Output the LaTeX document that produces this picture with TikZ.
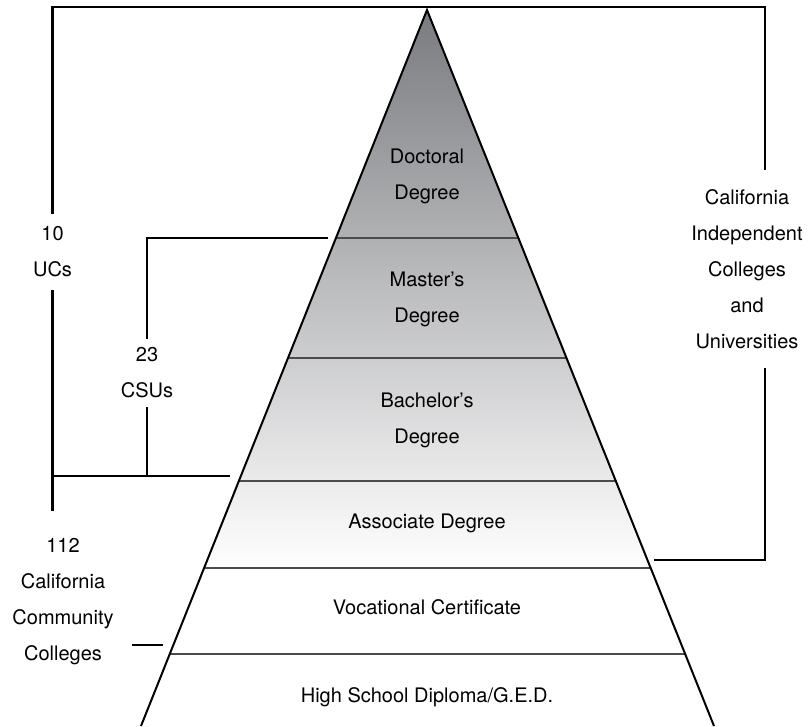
\documentclass[tikz,border=0pt]{standalone}
\usepackage{fontspec}
\setmainfont{TeX Gyre Heros}
\usetikzlibrary{positioning, calc}

\definecolor{topgray}{RGB}{122,123,127}
\definecolor{bandgray}{RGB}{75,75,77}

\tikzset{
	lbl/.style={align=center, inner xsep=0pt, inner ysep=0pt, font=\fontsize{20}{36}\selectfont},
	bracket/.style={line width=2.2pt},
	bandline/.style={line width=2pt, draw=bandgray},
	pyr/.style={line width=2pt, line join=miter}
}

\begin{document}
\begin{tikzpicture}[x=1pt, y=-1pt]
			\useasboundingbox (0,0) rectangle (808,726);
			
			\coordinate (apex) at (427,10);
			\coordinate (bl) at (141,726);
			\coordinate (br) at (714,726);
			
			\foreach \y [count=\i] in {238,358,481,568,654} {
				\coordinate (l\i) at ($(apex)!{(\y-10)/716}!(bl)$);
				\coordinate (r\i) at ($(apex)!{(\y-10)/716}!(br)$);
			}
			
			\shade[top color=topgray, bottom color=white] (apex) -- (l4) -- (r4) -- cycle;
			
			\foreach \i in {1,...,5} \draw[bandline] (l\i) -- (r\i);
			
			\draw[pyr] (bl) -- (apex) -- (br);
			
			\node[lbl] (doc) at (427,176.8) {Doctoral\\Degree};
			\node[lbl] (mas) at (427,298.9) {Master's\\Degree};
			\node[lbl] (bach) at (427,420.8) {Bachelor's\\Degree};
			\node[lbl] (assoc) at (427,522.9) {Associate Degree};
			\node[lbl] (voc) at (427,606.7) {Vocational Certificate};
			\node[lbl] (hs) at (427,696.8) {High School Diploma/G.E.D.};
			
			\node[lbl, inner ysep=13pt] (ucs) at (52.5,252) {10\\UCs};
			\node[lbl, inner ysep=9pt] (csus) at (147,373) {23\\CSUs};
			\node[lbl] (ccc) at (63,602) {112\\California\\Community\\Colleges};
			\node[lbl, inner ysep=19pt] (indep) at (747,268.8) {California\\Independent\\Colleges\\and\\Universities};
			
			\coordinate (topr) at (765,7);
			\coordinate (ucend) at (230,476);
			\coordinate (ucbot) at (53,511);
			\coordinate (csend) at (328,238);
			\coordinate (indend) at (654,560);
			\coordinate (dash) at (163,645);
			
			\draw[bracket] (ucs.north) -- (ucs.north |- topr) -- (topr) -- (indep.north -| topr);
			
			\draw[bracket] (ucs.south) -- (ucs.south |- ucbot);
			
			\draw[bracket] (ucs.south |- ucend) -- (ucend);
			
			\draw[bracket] (csus.north) -- (csus.north |- csend) -- (csend);
			
			\draw[bracket] (csus.south) -- (csus.south |- ucend);
			
			\draw[bracket] (indep.south -| topr) -- (topr |- indend) -- (indend);
			
			\draw[bracket] ([xshift=18pt]ccc.east |- dash) -- (dash);
		\end{tikzpicture}
\end{document}
